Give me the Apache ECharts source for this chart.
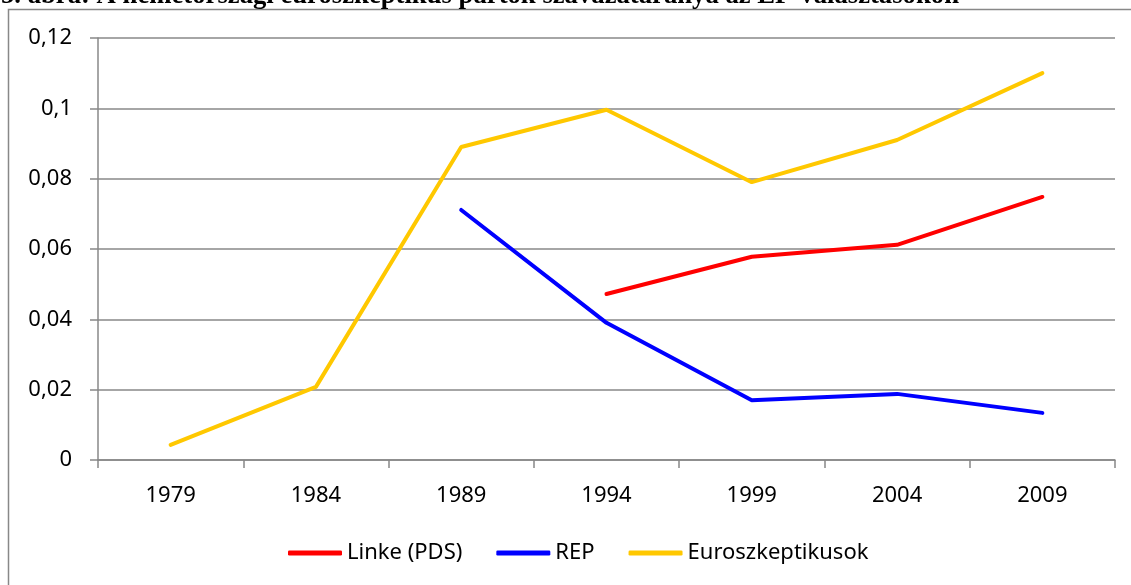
<!DOCTYPE html>
<html>
<head>
<meta charset="utf-8">
<script src="https://cdn.jsdelivr.net/npm/echarts@6/dist/echarts.min.js"></script>
<style>
  html, body { margin: 0; padding: 0; background: #fff; }
  #chart { width: 1131px; height: 585px; }
</style>
</head>
<body>
<div id="chart"></div>
<script>
const years = ['1979', '1984', '1989', '1994', '1999', '2004', '2009']
const linke = [null, null, null, 0.0472, 0.0578, 0.0612, 0.0748]
const rep = [null, null, 0.0711, 0.039, 0.017, 0.0188, 0.0134]
const euro = [0.0043, 0.0208, 0.089, 0.0996, 0.079, 0.091, 0.110]
const yTickLabels = ['0', '0,02', '0,04', '0,06', '0,08', '0,1', '0,12']

const chart = echarts.init(document.getElementById('chart'))
const font = 'Noto Sans'

chart.setOption({
  animation: false,
  graphic: [
    {
      type: 'rect',
      shape: { x: 8.5, y: 9.5, width: 1300, height: 800 },
      style: { fill: 'none', stroke: '#888', lineWidth: 1.5 },
      silent: true
    },
    {
      type: 'text',
      left: 1,
      top: -17,
      style: {
        text: '5. ábra: A németországi euroszkeptikus pártok szavazataránya az EP-választásokon',
        font: 'bold 26.7px "Liberation Serif"',
        fill: '#000'
      }
    }
  ],
  grid: { left: 98, right: 16, top: 38, bottom: 125 },
  legend: {
    top: 537,
    left: 283,
    itemWidth: 54,
    itemHeight: 5,
    itemGap: 34,
    icon: 'roundRect',
    textStyle: { fontFamily: font, fontSize: 22, color: '#000' },
    data: ['Linke (PDS)', 'REP', 'Euroszkeptikusok']
  },
  xAxis: {
    type: 'category',
    data: years,
    boundaryGap: true,
    axisLine: { lineStyle: { color: '#888', width: 1.5 } },
    axisTick: { show: true, length: 8, lineStyle: { color: '#888', width: 1.5 } },
    axisLabel: { fontFamily: font, fontSize: 22, color: '#000', margin: 25 }
  },
  yAxis: {
    type: 'value',
    min: 0,
    max: 0.12,
    interval: 0.02,
    axisLine: { show: true, lineStyle: { color: '#888', width: 1.5 } },
    axisTick: { show: true, length: 8, lineStyle: { color: '#888', width: 1.5 } },
    splitLine: { lineStyle: { color: '#888', width: 1.5 } },
    axisLabel: {
      fontFamily: font, fontSize: 22, color: '#000', margin: 26,
      formatter: (v, i) => yTickLabels[i]
    }
  },
  series: [
    {
      name: 'Linke (PDS)', type: 'line', data: linke, showSymbol: false,
      lineStyle: { color: '#ff0000', width: 4, cap: 'round' }, itemStyle: { color: '#ff0000' }
    },
    {
      name: 'REP', type: 'line', data: rep, showSymbol: false,
      lineStyle: { color: '#0000ff', width: 4, cap: 'round' }, itemStyle: { color: '#0000ff' }
    },
    {
      name: 'Euroszkeptikusok', type: 'line', data: euro, showSymbol: false,
      lineStyle: { color: '#ffc800', width: 4, cap: 'round' }, itemStyle: { color: '#ffc800' }
    }
  ]
})
</script>
</body>
</html>
